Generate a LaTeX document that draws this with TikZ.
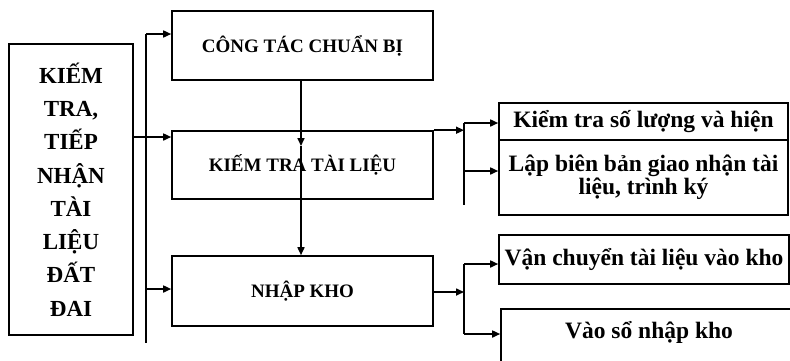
\documentclass[tikz,border=0pt]{standalone}
\usepackage{fontspec}
\setmainfont{Liberation Serif}
\usetikzlibrary{arrows.meta}
\tikzset{
  ln/.style={line width=1.6pt},
  box/.style={draw, line width=1.6pt, inner sep=0pt, font=\bfseries},
  arr/.style={ln, -{Triangle[length=8pt,width=7pt]}},
  caps/.style={font=\fontsize{19}{22}\selectfont\bfseries},
  lower/.style={font=\fontsize{23.5}{23}\selectfont\bfseries, align=center},
}
\begin{document}
\begin{tikzpicture}[x=1pt,y=-1pt]
\clip (0,0) rectangle (790,360);
\fill[white] (0,0) rectangle (790,360);
% left box
\node[box, minimum width=124pt, minimum height=291pt, align=center,
  font=\fontsize{23}{33.3}\selectfont\bfseries] (L) at (71,189.5)
  {KIẾM\\TRA,\\TIẾP\\NHẬN\\TÀI\\LIỆU\\ĐẤT\\ĐAI};
% middle column
\node[box, caps, minimum width=261pt, minimum height=69pt] (T) at (302.5,45.5) {CÔNG TÁC CHUẨN BỊ};
\node[box, caps, minimum width=261pt, minimum height=68pt] (M) at (302.5,165) {\raisebox{4pt}{KIẾM TRA TÀI LIỆU}};
\node[box, caps, minimum width=261pt, minimum height=70pt] (B) at (302.5,291) {\raisebox{2pt}{NHẬP KHO}};
% right boxes
\node[box, lower, minimum width=289pt, minimum height=37pt] (R1) at (643.5,121.5) {Kiểm tra số lượng và hiện};
\node[box, lower, minimum width=289pt, minimum height=75pt] (R2) at (643.5,177.5) {Lập biên bản giao nhận tài\\liệu, trình ký};
\node[box, lower, minimum width=290pt, minimum height=49pt] (R3) at (644,259.5) {Vận chuyển tài liệu vào kho};
\node[box, minimum width=299pt, minimum height=61pt] (R4) at (650.5,339.5) {};
\node[lower, anchor=base] (R4t) at (649,338) {Vào sổ nhập kho};
% left bus
\coordinate (bt) at (146,34);
\coordinate (bb) at (146,343);
\draw[ln] (bt) -- (bb);
\draw[arr] (bt) -- (bt -| T.west);
\draw[arr] (L.east |- 0,137) -- (M.west |- 0,137);
\coordinate (bm) at (146,289);
\draw[arr] (bm) -- (bm -| B.west);
% vertical through middle
\coordinate (vm) at (301,146);
\draw[arr] (T.south -| vm) -- (vm);
\draw[arr] (vm) -- (B.north -| vm);
% right bus 1
\coordinate (r1t) at (464,123);
\coordinate (r1b) at (464,205);
\draw[ln] (r1t) -- (r1b);
\draw[arr] (M.north east) -- (M.north east -| r1t);
\draw[arr] (r1t) -- (r1t -| R1.west);
\coordinate (r1m) at (464,171);
\draw[arr] (r1m) -- (r1m -| R2.west);
% right bus 2
\coordinate (r2t) at (464,264);
\coordinate (r2b) at (464,334);
\draw[ln] (r2t) -- (r2b);
\coordinate (r2m) at (464,292);
\draw[arr] (B.east |- r2m) -- (r2m);
\draw[arr] (r2t) -- (r2t -| R3.west);
\draw[arr] (r2b) -- (r2b -| R4.west);
\end{tikzpicture}
\end{document}
